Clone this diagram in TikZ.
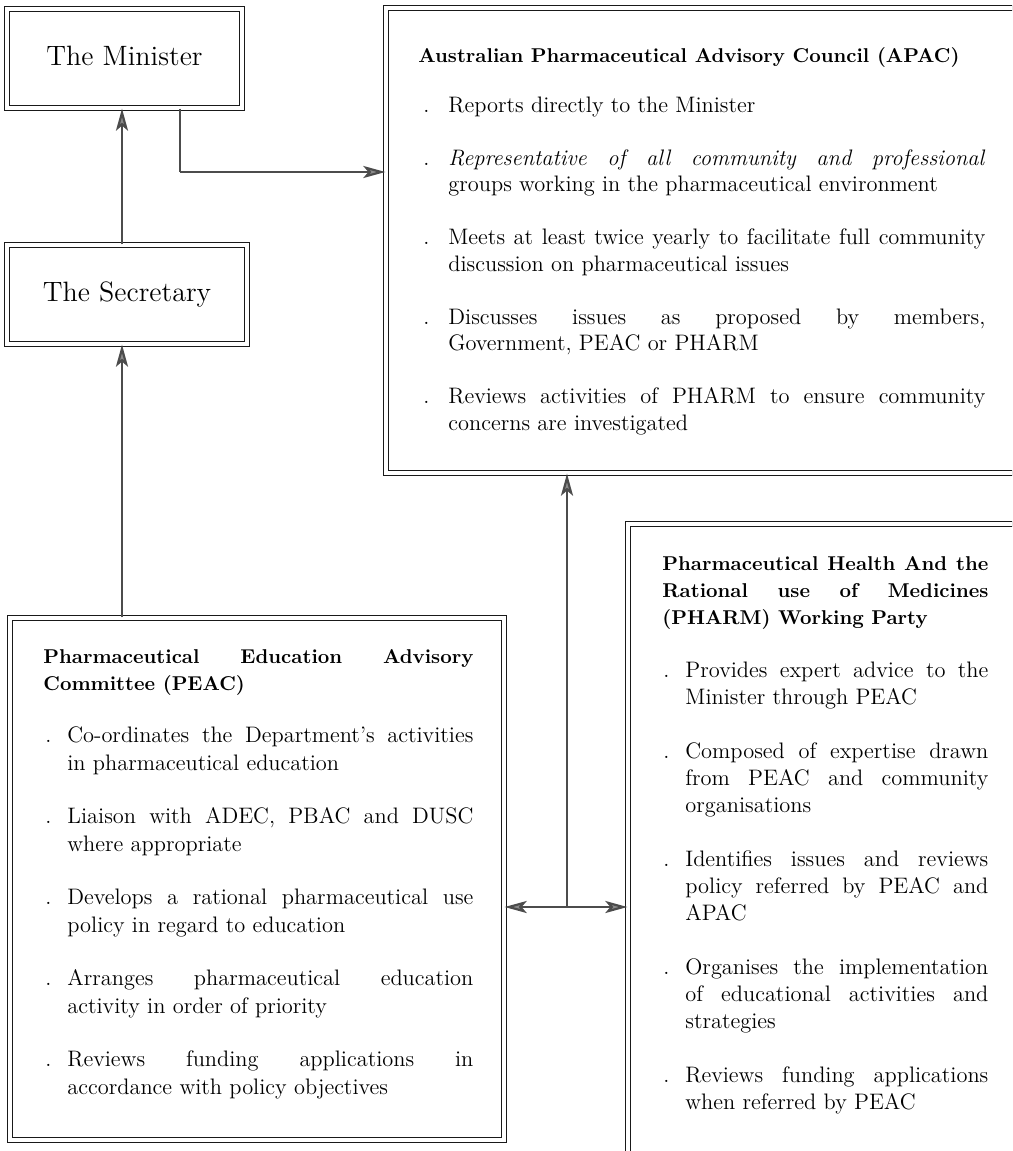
\documentclass[tikz,border=0pt]{standalone}
\usepackage{fontspec}
\usetikzlibrary{arrows.meta}
\newlength\bulD \newlength\bulI \newlength\bulW \newlength\ttlW
\newcommand\ttlfont{\fontsize{10}{13}\selectfont\bfseries}
\newcommand\bfj[1]{\noindent\makebox[\bulI][l]{\hspace*{\bulD}.}\makebox[\bulW][s]{#1}\par}
\newcommand\bfn[1]{\noindent\makebox[\bulI][l]{\hspace*{\bulD}.}#1\par}
\newcommand\bmid[1]{\noindent\hspace*{\bulI}\makebox[\bulW][s]{#1}\par}
\newcommand\blast[1]{\noindent\hspace*{\bulI}#1\par}
\newcommand\tj[1]{\noindent\makebox[\ttlW][s]{\ttlfont #1}\par}
\newcommand\tn[1]{\noindent{\ttlfont #1}\par}
\tikzset{
  box/.style={draw=black!90, double, double distance=1.6pt, line width=0.65pt, inner sep=0pt},
  bigtxt/.style={font=\fontsize{14}{16}\selectfont, text height=10pt, text depth=3.5pt},
  txt/.style={anchor=base west, inner sep=0pt, align=justify},
  conn/.style={draw=black!70, line width=1.1pt, -{Stealth[length=11pt,width=6pt,inset=2.5pt,fill=black!45]}},
  conn2/.style={draw=black!70, line width=1.1pt, {Stealth[length=11pt,width=6pt,inset=2.5pt,fill=black!45]}-{Stealth[length=11pt,width=6pt,inset=2.5pt,fill=black!45]}},
  plain/.style={draw=black!70, line width=1.1pt}
}
\begin{document}
\begin{tikzpicture}[x=0.5pt,y=-0.5pt]
\useasboundingbox (0,0) rectangle (1012,1151);
\clip (0,0) rectangle (1012,1151);
\fill[white] (0,0) rectangle (1012,1151);

% boxes
\node[box, bigtxt, minimum width=117.5pt, minimum height=49.5pt] (min) at (124.5,58.5) {The Minister};
\node[box, bigtxt, minimum width=120pt, minimum height=49.5pt] (sec) at (127,294.5) {The Secretary};
\node[box, minimum width=357pt, minimum height=232.5pt] (apac) at (743,240.5) {};
\node[box, minimum width=247pt, minimum height=261pt] (peac) at (257,879) {};
\node[box, minimum width=236pt, minimum height=363pt] (pharm) at (864,887) {};

% APAC text
\node[txt, text width=283.5pt, font=\fontsize{11.2}{13.25}\selectfont] (apact) at (418,62) {%
\setlength\bulD{2.5pt}\setlength\bulI{15pt}\setlength\bulW{268.5pt}%
\tn{Australian Pharmaceutical Advisory Council (APAC)}
\vspace{11.75pt}
\bfn{Reports directly to the Minister}
\vspace{13.25pt}
\bfj{\textit{Representative of all community and professional}}
\blast{groups working in the pharmaceutical environment}
\vspace{13.25pt}
\bfj{Meets at least twice yearly to facilitate full community}
\blast{discussion on pharmaceutical issues}
\vspace{13.25pt}
\bfj{Discusses issues as proposed by members,}
\blast{Government, PEAC or PHARM}
\vspace{13.25pt}
\bfj{Reviews activities of PHARM to ensure community}
\blast{concerns are investigated}
};

% PEAC text
\node[txt, text width=215pt, font=\fontsize{11.2}{13.7}\selectfont] (peact) at (43,663) {%
\setlength\bulD{1pt}\setlength\bulI{12pt}\setlength\bulW{203pt}\setlength\ttlW{215pt}%
\tj{Pharmaceutical Education Advisory}
\tn{Committee (PEAC)}
\vspace{12.5pt}
\bfj{Co-ordinates the Department's activities}
\blast{in pharmaceutical education}
\vspace{13.1pt}
\bfj{Liaison with ADEC, PBAC and DUSC}
\blast{where appropriate}
\vspace{13.1pt}
\bfj{Develops a rational pharmaceutical use}
\blast{policy in regard to education}
\vspace{13.1pt}
\bfj{Arranges pharmaceutical education}
\blast{activity in order of priority}
\vspace{13.1pt}
\bfj{Reviews funding applications in}
\blast{accordance with policy objectives}
};

% PHARM text
\node[txt, text width=163pt, font=\fontsize{11.2}{13.5}\selectfont] (pharmt) at (662,570) {%
\setlength\bulD{0.5pt}\setlength\bulI{11.5pt}\setlength\bulW{151.5pt}\setlength\ttlW{163pt}%
\tj{Pharmaceutical Health And the}
\tj{Rational use of Medicines}
\tn{(PHARM) Working Party}
\vspace{13pt}
\bfj{Provides expert advice to the}
\blast{Minister through PEAC}
\vspace{13.5pt}
\bfj{Composed of expertise drawn}
\bmid{from PEAC and community}
\blast{organisations}
\vspace{13.5pt}
\bfj{Identifies issues and reviews}
\bmid{policy referred by PEAC and}
\blast{APAC}
\vspace{13.5pt}
\bfj{Organises the implementation}
\bmid{of educational activities and}
\blast{strategies}
\vspace{13.5pt}
\bfj{Reviews funding applications}
\blast{when referred by PEAC}
};

% connectors
\coordinate (ax) at (122,0);
\coordinate (bend) at (180,172);
\coordinate (jn) at (567,907);
\draw[conn] (sec.north -| ax) -- (min.south -| ax);
\draw[conn] (peac.north -| ax) -- (sec.south -| ax);
\draw[plain] (min.south -| bend) -- (bend);
\draw[conn] (bend) -- (apac.west |- bend);
\draw[conn2] (peac.east |- jn) -- (pharm.west |- jn);
\draw[conn] (jn) -- (apac.south -| jn);
\end{tikzpicture}
\end{document}
